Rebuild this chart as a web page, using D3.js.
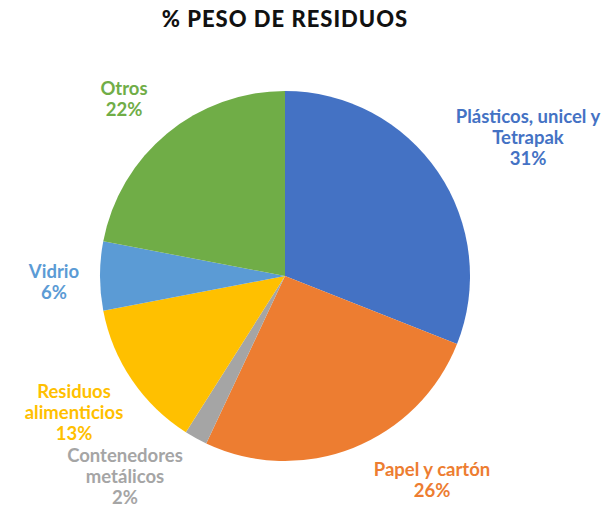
<!DOCTYPE html>
<html>
<head>
  <meta charset="utf-8">
  <title>% Peso de residuos</title>
  <script src="https://cdn.jsdelivr.net/npm/d3@7"></script>
  <style>
    body { margin: 0; background: #fff; }
    .titulo { font: 900 22px Lato, sans-serif; fill: #111; text-anchor: middle; letter-spacing: 1px; }
    .etiqueta { font: bold 18.5px Lato, sans-serif; text-anchor: middle; }
  </style>
</head>
<body>
<div id="grafico"></div>
<script>
  "use strict"

  // datos del grafico (porcentaje de peso, en sentido horario desde arriba)
  var categorias = [["Plásticos, unicel y", "Tetrapak"], ["Papel y cartón"], ["Contenedores", "metálicos"],
                    ["Residuos", "alimenticios"], ["Vidrio"], ["Otros"]];
  var valores = [31, 26, 2, 13, 6, 22];
  var colores = ["#4472C4", "#ED7D31", "#A5A5A5", "#FFC000", "#5B9BD5", "#70AD47"];

  var larguraSVG = 611, alturaSVG = 510;
  var cx = 285, cy = 276, raio = 185, raioEtiqueta = 250;

  var svg = d3.select('#grafico')
      .append('svg')
      .attr('width', larguraSVG)
      .attr('height', alturaSVG);

  svg.append('text')
      .attr('class', 'titulo')
      .attr('x', cx)
      .attr('y', 27)
      .text('% PESO DE RESIDUOS');

  var pie = d3.pie().sort(null).value(d => d);
  var arco = d3.arc().innerRadius(0).outerRadius(raio);
  var arcoEtiqueta = d3.arc().innerRadius(raioEtiqueta).outerRadius(raioEtiqueta);

  var g = svg.append('g').attr('transform', 'translate(' + cx + ',' + cy + ')');
  var fatias = pie(valores);

  g.selectAll('path')
      .data(fatias)
      .enter().append('path')
      .attr('d', arco)
      .attr('fill', (d, i) => colores[i]);

  // centro de cada bloco de texto; vira um ajuste sobre o centroide
  var centrosAlvo = [[528, 138], [432, 480], [125, 477], [74, 413], [54, 282], [124, 99]];
  var ajusteEtiqueta = fatias.map(function (d, i) {
    var c = arcoEtiqueta.centroid(d);
    return [centrosAlvo[i][0] - cx - c[0], centrosAlvo[i][1] - cy - c[1]];
  });

  var alturaLinha = 21;
  var etiquetas = g.selectAll('text.etiqueta')
      .data(fatias)
      .enter().append('text')
      .attr('class', 'etiqueta')
      .attr('fill', (d, i) => colores[i])
      .attr('transform', function (d, i) {
        var c = arcoEtiqueta.centroid(d);
        return 'translate(' + (c[0] + ajusteEtiqueta[i][0]) + ',' + (c[1] + ajusteEtiqueta[i][1]) + ')';
      });

  etiquetas.each(function (d, i) {
    var linhas = categorias[i].concat([valores[i] + '%']);
    var t = d3.select(this);
    var y0 = -(linhas.length - 1) * alturaLinha / 2 + 6;
    linhas.forEach(function (l, k) {
      t.append('tspan').attr('x', 0).attr('y', y0 + k * alturaLinha).text(l);
    });
  });
</script>
</body>
</html>
